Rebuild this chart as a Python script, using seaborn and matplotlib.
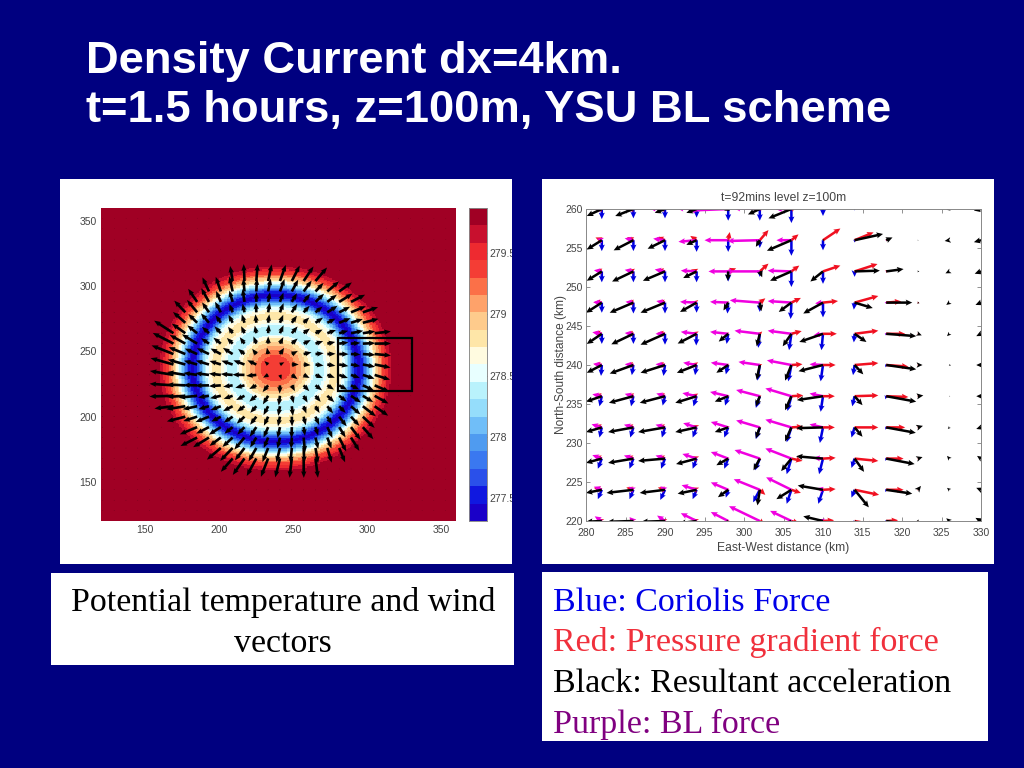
import numpy as np
import pandas as pd
import seaborn as sns
import matplotlib.pyplot as plt
from matplotlib.colors import ListedColormap
from matplotlib.patches import Rectangle

band_colors = ['#1A00C8', '#1018E0', '#2A50EA', '#3A78F0', '#4F9BF0', '#70BEF8', '#95DDFB', '#B9F2FC', '#E8FFFF',
               '#FFFBE0', '#FEE6A8', '#FECB8C', '#FEA26A', '#FB7048', '#F43D35', '#EE2A30', '#C8102E', '#A00024']
center_x = 238
center_y = 237
ring_outer_r = [10.5, 14, 17.5, 20.5, 23, 25, 26, 33, 35, 37.5, 43, 45.5, 47, 48.5, 49.5, 50.5, 51.5, 52.5, 53.5,
                55, 57.5, 59, 60.2, 61.2, 62, 63, 64, 65, 66, 67, 68, 69.5, 71, 72.5, 74.5, 76, 78.5]
ring_temp = [279.38, 279.23, 279.07, 278.93, 278.79, 278.65, 278.51, 278.39, 278.51, 278.65, 278.79, 278.65, 278.51,
             278.39, 278.24, 278.10, 277.96, 277.82, 277.68, 277.54, 277.38, 277.54, 277.68, 277.82, 277.96, 278.10,
             278.24, 278.39, 278.51, 278.65, 278.79, 278.93, 279.07, 279.23, 279.38, 279.52, 279.66]
outside_temp = 279.80

# wind speed against radius, how it changes with compass sector (E, NE, N, NW, W, SW, S, SE),
# and the clockwise turn of the wind from radial
wind_r = [8, 20, 40, 55, 65, 75, 400]
wind_speed = [4.0, 5.5, 6.5, 7.5, 10.0, 13.0, 0.4]
sector_factor = [0.85, 0.85, 1.0, 0.9, 1.25, 1.0, 1.15, 0.9]
wind_turn_deg = 15

temp_ticks = [277.5, 278, 278.5, 279, 279.5]
xy_ticks = [150, 200, 250, 300, 350]

# Right panel: four force vectors at each grid point (km on the plot), rows from north to south
col_x = [282, 286, 290, 294, 298, 302, 306, 310, 314, 318, 322, 326, 330]
row_y = [260, 256, 252, 248, 244, 240, 236, 232, 228, 224, 220]

blue_u = [[0, 0, 0, 0, 0, 0, 0, 0, 0, 0, 0, 0, 0],
          [0, 0, 0, 0, 0, 0, 0, 0, 0, 0, 0, 0, 0],
          [0, 0, 0, 0, 0, 0, 0, 0, 0, 0, 0, 0, 0],
          [0, 0, 0, 0, -.1, 0, -.1, 0, -.1, -.1, 0, 0, 0],
          [0, 0, 0, -.05, -.2, -.2, -.3, -.2, -.1, -.1, 0, 0, 0],
          [-.1, -.2, -.2, -.2, -.3, -.3, -.4, -.3, -.2, -.1, 0, 0, 0],
          [-.3, -.3, -.3, -.4, -.4, -.5, -.5, -.3, -.3, -.1, 0, 0, 0],
          [-.3, -.4, -.4, -.5, -.5, -.5, -.6, -.4, -.4, -.1, 0, 0, 0],
          [-.5, -.5, -.5, -.5, -.5, -.6, -.6, -.5, -.4, -.1, 0, 0, 0],
          [-.5, -.5, -.6, -.5, -.3, -.85, -.6, -.6, -.4, -.1, 0, 0, 0],
          [-.6, -.6, -.6, -.6, -.6, -.8, -.7, -.6, -.4, -.1, 0, 0, 0]]
blue_v = [[-1.3, -1.2, -1.2, -1.1, -1.5, -1.5, -1.8, -.9, -.2, 0, 0, 0, 0],
          [-1.4, -1.4, -1.4, -1.5, -1.5, -1.0, -2, -1.3, -.3, 0, 0, 0, 0],
          [-1.4, -1.4, -1.4, -1.4, -1.3, -.7, -2, -1.6, -.7, 0, 0, 0, 0],
          [-1.3, -1.4, -1.4, -1.3, -1.4, -1.2, -2.1, -1.9, -.9, -.1, 0, 0, 0],
          [-1.3, -1.3, -1.4, -1.5, -1.3, -1.8, -2.1, -2.1, -1.1, -.2, 0, 0, 0],
          [-1.4, -1.3, -1.4, -1.3, -1.2, -2, -2.1, -2.1, -1.3, -.3, 0, 0, 0],
          [-1.3, -1.3, -1.2, -1.3, -1.2, -1.5, -1.9, -2, -1.3, -.4, 0, 0, 0],
          [-1.3, -1.3, -1.3, -1.3, -1.3, -1.5, -1.9, -2, -1.3, -.3, 0, 0, 0],
          [-1.3, -1.3, -1.3, -1.3, -1.3, -1.5, -2, -2, -1.2, -.3, 0, 0, 0],
          [-1.2, -1.2, -1.3, -1.2, -1, -1.6, -1.8, -1.8, -1, -.3, 0, 0, 0],
          [-1.2, -1.2, -1.2, -1.2, -1.2, -1.5, -1.6, -1.6, -.9, -.3, 0, 0, 0]]

red_u = [[-.7, -.7, -.8, -.7, -.3, .3, .5, 0, 0, 0, 0, 0, 0],
         [-.8, -.8, -1, -.8, .2, 1.1, .9, 2.2, 2.4, .2, 0, 0, 0],
         [-.8, -.7, -1, -.7, 1, 1.1, 1, 2.2, 2.9, .3, 0, 0, 0],
         [-1, -.8, -.9, -.6, -.3, .7, 1.2, 1.9, 3, 1.9, .2, 0, 0],
         [-1, -.9, -1, -.6, -.3, .3, 1.3, 1.75, 3, 2.4, .2, 0, 0],
         [-1, -.9, -1, -.7, -.3, .3, 1.4, 1.6, 3, 2.8, .2, 0, 0],
         [-.9, -.8, -.9, -.7, -.3, .2, 1.5, 1.5, 3, 2.8, .2, 0, 0],
         [-.9, -.9, -.9, -.6, -.3, .2, 1.5, 1.5, 3, 2.4, .2, 0, 0],
         [-.9, -.9, -.9, -.6, -.2, .2, 1.4, 1.6, 3, 2.2, .2, 0, 0],
         [-1, -.9, -.9, -.6, -.2, .7, 1.2, 1.6, 3.1, 2.2, .2, 0, 0],
         [-.5, -.5, -.5, -.5, -.2, .6, 1, 1.4, 2.6, 1.5, .1, 0, 0]]
red_v = [[.2, .2, .2, .2, .2, .4, .5, 0, 0, 0, 0, 0, 0],
         [.35, .4, .4, .55, 1.05, 1.3, .75, 1.5, 1, .1, 0, 0, 0],
         [.1, .2, .2, .25, .4, 1, .75, .75, .95, .1, 0, 0, 0],
         [.05, .1, .1, .1, .05, .55, .6, .2, .85, .15, -.05, 0, 0],
         [.2, .1, .1, .2, .1, .3, .35, 0, .4, 0, -.05, 0, 0],
         [.1, .1, .1, .2, .1, .1, .1, 0, .25, -.2, 0, 0, 0],
         [.2, .25, .25, .25, .15, .1, .1, 0, .1, -.1, 0, 0, 0],
         [.3, .25, .25, .3, .2, 0, .1, 0, 0, 0, 0, 0, 0],
         [.3, .3, .3, .3, .2, -.1, -.3, .1, -.3, 0, 0, 0, 0],
         [.25, .3, .3, .3, .2, -.65, -.4, .1, -.65, 0, 0, 0, 0],
         [.3, .3, .3, .3, .2, -.5, -.3, .1, -.5, .1, 0, 0, 0]]

mag_u = [[-1, -1, -2, -2.5, -5, -3.3, -2, 0, 0, 0, 0, 0, 0],
         [-.6, -1.1, -1.5, -2.3, -3, -4.1, -1.9, 0, 0, -.1, 0, 0, 0],
         [-1, -1.1, -1.3, -2, -2.5, -4.4, -3, 0, 0, -.1, 0, 0, 0],
         [-1.1, -1, -1.1, -2.1, -2.3, -3.8, -3, -1, 0, -.2, 0, 0, 0],
         [-1.2, -1.1, -1.2, -2, -2.3, -3.2, -3, -1.2, 0, -.2, 0, 0, 0],
         [-1.1, -1.1, -1.2, -1.7, -2.2, -2.7, -3.1, -1.7, 0, -.1, 0, 0, 0],
         [-1.2, -1.1, -1.1, -1.8, -2.3, -3, -3.3, -1.7, 0, -.1, 0, 0, 0],
         [-1.3, -1.2, -1.2, -1.7, -2.2, -3, -3.3, -1.7, 0, -.1, 0, 0, 0],
         [-1.2, -1.2, -1.2, -1.8, -2.2, -3.2, -3.3, -1.2, 0, -.1, 0, 0, 0],
         [-1, -.6, -.6, -1.9, -2.2, -3.3, -3.2, -.8, 0, -.1, 0, 0, 0],
         [-.9, -.5, -1, -2, -2.2, -3.9, -2.7, -.6, 0, 0, 0, 0, 0]]
mag_v = [[.1, .1, .1, .1, -.2, .1, 0, 0, 0, 0, 0, 0, 0],
         [.2, .25, .2, -.2, 0, -.1, 0, 0, 0, 0, 0, 0, 0],
         [.15, .2, .25, .1, 0, 0, .1, 0, 0, 0, 0, 0, 0],
         [.05, .1, .2, .1, .1, .3, .2, -.1, 0, 0, 0, 0, 0],
         [.2, .1, 0, .25, .25, .4, .4, -.2, 0, 0, 0, 0, 0],
         [.15, .1, .1, .3, .3, .4, .6, .1, 0, 0, 0, 0, 0],
         [.25, .3, .35, .4, .55, .8, 1, .35, 0, 0, 0, 0, 0],
         [.4, .35, .35, .55, .7, .9, 1, .4, 0, 0, 0, 0, 0],
         [.45, .4, .4, .6, .85, 1.1, 1.3, .1, 0, 0, 0, 0, 0],
         [.4, .4, .45, .6, .95, 1.35, 1.6, .2, 0, 0, 0, 0, 0],
         [.6, .5, .7, 1, 1.15, 1.9, 1.3, .2, 0, 0, 0, 0, 0]]

black_u = [[-1.9, -2.3, -1.3, -1.3, -.5, -1.5, -2.9, 0, 0, 0, 0, -.4, -.9],
           [-1.9, -2.5, -2.2, -1.3, -.1, -.5, -3.1, .2, 3.6, .8, .1, -.6, -.9],
           [-1.9, -2.7, -2.8, -1.7, -.05, .3, -2.7, -1.6, 3.2, 2.2, .2, -.5, -.8],
           [-2, -3, -3.1, -2.1, -.6, .2, -1.6, -2.5, 2.3, 3.3, .2, -.4, -.7],
           [-1.9, -2.8, -3.1, -2.4, -1.2, -.4, -1.1, -3, 1.5, 3.8, .5, -.3, -.6],
           [-1.9, -3, -3.1, -2.5, -1.5, -.4, -.8, -3.1, 1.1, 3.8, .6, .2, -.6],
           [-2, -3.1, -3.2, -2.7, -1.7, -.5, -.8, -3.3, 1, 3.8, .7, .1, -.6],
           [-2, -3.2, -3.4, -2.7, -1.7, -.5, -.8, -3.4, 1, 3.75, .65, -.2, -.6],
           [-2, -3.2, -3.4, -2.6, -1.5, -.8, -1.3, -3.4, 1.2, 3.6, .6, -.3, -.5],
           [-2, -3.4, -3.2, -2.4, -1.3, -.3, -1.9, -3.2, 1.8, 3.3, .4, -.3, -.6],
           [-2, -3.3, -3, -2.2, -1.2, -.3, -2, -2.5, 1.5, 3, .1, -.4, -.7]]
black_v = [[-.9, -.9, -.5, -.5, -.2, -.7, -1.2, 0, 0, 0, 0, -.1, -.2],
           [-1.2, -1.3, -1.1, -.6, -.1, -.85, -1.35, .1, .8, .35, 0, -.1, -.25],
           [-1.2, -1.3, -1.2, -.85, -1.2, -.75, -1.2, -1.3, .1, .3, 0, -.25, -.3],
           [-1.3, -1.3, -1.3, -1.2, -1, -1.1, -1.2, -1.4, -.7, 0, -.1, -.3, -.3],
           [-1.3, -1.35, -1.4, -1.25, -1, -1.6, -1.6, -1.05, -1.05, -.3, -.2, -.3, -.3],
           [-1, -1.1, -1, -1, -1, -1.9, -2, -.8, -1.2, -.55, 0, -.05, 0],
           [-.7, -.85, -.85, -.85, -.7, -1.3, -1.8, -.5, -1.15, -.7, .1, 0, 0],
           [-.6, -.6, -.6, -.6, -.6, -1.4, -1.8, -.1, -1.2, -.7, .2, -.2, -.2],
           [-.55, -.55, -.3, -.7, -.85, -1.5, -1.6, .3, -1.7, -.7, .2, .35, .35],
           [-.4, -.4, -.4, -.5, -.95, -2, -1.2, .55, -2.25, -.5, .5, .25, .25],
           [-.1, -.1, -.1, -.3, -.8, -1.5, -.9, .6, -2, -.5, .2, .35, .4]]

title_lines = ['Density Current dx=4km.', 't=1.5 hours, z=100m, YSU BL scheme']
left_caption = ['Potential temperature and wind', 'vectors']
right_caption = [('Blue: Coriolis Force', '#0000E8'), ('Red: Pressure gradient force', '#F0303C'),
                 ('Black: Resultant acceleration', 'black'), ('Purple: BL force', '#800080')]

W, H = 1024, 768
NAVY = '#000080'
TICK_GREY = '#444444'


def px_axes(fig, x0, y0, x1, y1):
    return fig.add_axes([x0 / W, 1 - y1 / H, (x1 - x0) / W, (y1 - y0) / H])


def px_box(fig, x0, y0, x1, y1, color='white', zorder=-1):
    fig.add_artist(Rectangle((x0 / W, 1 - y1 / H), (x1 - x0) / W, (y1 - y0) / H, transform=fig.transFigure,
                             facecolor=color, edgecolor='none', zorder=zorder))


def px_text(fig, x, y, s, **kw):
    fig.text(x / W, 1 - y / H, s, va='baseline', **kw)


sns.set_style('white')
plt.rcParams['font.family'] = ['Liberation Sans', 'DejaVu Sans']

fig = plt.figure(figsize=(W / 100, H / 100), dpi=100, facecolor=NAVY)
px_box(fig, 60, 179, 512, 564)
px_box(fig, 542, 179, 994, 564)
px_box(fig, 51, 573, 514, 665)
px_box(fig, 542, 572, 988, 741)

px_text(fig, 86, 73, title_lines[0], color='white', fontsize=32.7, fontweight='bold')
px_text(fig, 86, 122, title_lines[1], color='white', fontsize=32.7, fontweight='bold')
for y, s in zip([611, 652], left_caption):
    px_text(fig, 283, y, s, color='black', fontsize=24.4, family='Liberation Serif', ha='center')
for y, (s, c) in zip([611, 651, 692, 733], right_caption):
    px_text(fig, 553, y, s, color=c, fontsize=24.5, family='Liberation Serif')

# --- left panel: temperature as a heatmap with the wind on top
edges = np.arange(120, 361)
mids = (edges[:-1] + edges[1:]) / 2
gx, gy = np.meshgrid(mids, mids)
r = np.hypot(gx - center_x, gy - center_y)
temp_lookup = np.array(ring_temp + [outside_temp])
field = pd.DataFrame(temp_lookup[np.searchsorted(ring_outer_r, r)])

ax1 = px_axes(fig, 101, 208, 456, 521)
cax = px_axes(fig, 469, 208, 487, 521)
sns.heatmap(field, ax=ax1, cbar_ax=cax, cmap=ListedColormap(band_colors), vmin=277.31, vmax=279.87,
            xticklabels=False, yticklabels=False, cbar_kws={'ticks': temp_ticks})
ax1.set_ylim(0, 240)
ax1.set_xlim(0, 240)
ax1.set_xticks([t - 120 for t in xy_ticks], [str(t) for t in xy_ticks])
ax1.set_yticks([t - 120 for t in xy_ticks], [str(t) for t in xy_ticks])
ax1.tick_params(labelsize=7.5, labelcolor=TICK_GREY, length=0, pad=3)

wx, wy = np.meshgrid(np.arange(121, 360, 8), np.arange(128, 360, 8))
wr = np.hypot(wx - center_x, wy - center_y)
bearing = np.arctan2(wy - center_y, wx - center_x)
sector = np.round(bearing / (np.pi / 4)).astype(int) % 8
speed = np.array(wind_speed)[np.searchsorted(wind_r, wr)] * np.array(sector_factor)[sector]
heading = bearing - np.radians(wind_turn_deg)
ax1.quiver(wx - 120, wy - 120, speed * np.cos(heading), speed * np.sin(heading), angles='xy', scale_units='xy',
           scale=1, units='xy', width=1.9, headwidth=2, headlength=2.5, headaxislength=2.3, minlength=0,
           color='black', zorder=3)
ax1.add_patch(Rectangle((280 - 120, 220 - 120), 50, 40, fill=False, edgecolor='black', lw=1.6, zorder=4))

cax.tick_params(labelsize=7.5, labelcolor=TICK_GREY, length=2, direction='in', color=TICK_GREY, pad=2)
cax.yaxis.set_major_formatter(plt.FuncFormatter(lambda v, p: f'{v:g}'))
for s in cax.spines.values():
    s.set_visible(True)
    s.set_linewidth(0.5)
    s.set_edgecolor('#888888')

# colour bar labels are cut off by the edge of the pasted panel
px_box(fig, 512, 179, 542, 564, color=NAVY, zorder=10)

# --- right panel: force vectors
ax2 = px_axes(fig, 586, 209, 981, 521)
X, Y = np.meshgrid(col_x, row_y)
quiver_kw = dict(angles='xy', scale_units='xy', scale=1, units='xy', width=0.32, headwidth=2.4, headlength=2.6,
                 headaxislength=2.3, minlength=0, minshaft=0.8)
for u, v, c in [(blue_u, blue_v, '#0000E0'), (red_u, red_v, '#F01020'), (mag_u, mag_v, '#F000E0'),
                (black_u, black_v, 'black')]:
    ax2.quiver(X, Y, np.array(u), np.array(v), color=c, **quiver_kw)
ax2.set_xlim(280, 330)
ax2.set_ylim(220, 260)
ax2.set_xticks(np.arange(280, 331, 5))
ax2.set_yticks(np.arange(220, 261, 5))
ax2.tick_params(labelsize=7.5, labelcolor=TICK_GREY, length=3, width=0.5, direction='in', color='#666666',
                top=True, right=True, bottom=True, left=True, pad=5)
ax2.tick_params(axis='y', pad=2)
ax2.set_xlabel('East-West distance (km)', fontsize=8.75, color=TICK_GREY, labelpad=3)
ax2.set_ylabel('North-South distance (km)', fontsize=8.6, color=TICK_GREY, labelpad=-1)
ax2.set_title('t=92mins level z=100m', fontsize=8.7, color=TICK_GREY, pad=6)
for s in ax2.spines.values():
    s.set_visible(True)
    s.set_linewidth(0.7)
    s.set_edgecolor('#888888')

fig.savefig('out.png', dpi=100, facecolor=NAVY)
